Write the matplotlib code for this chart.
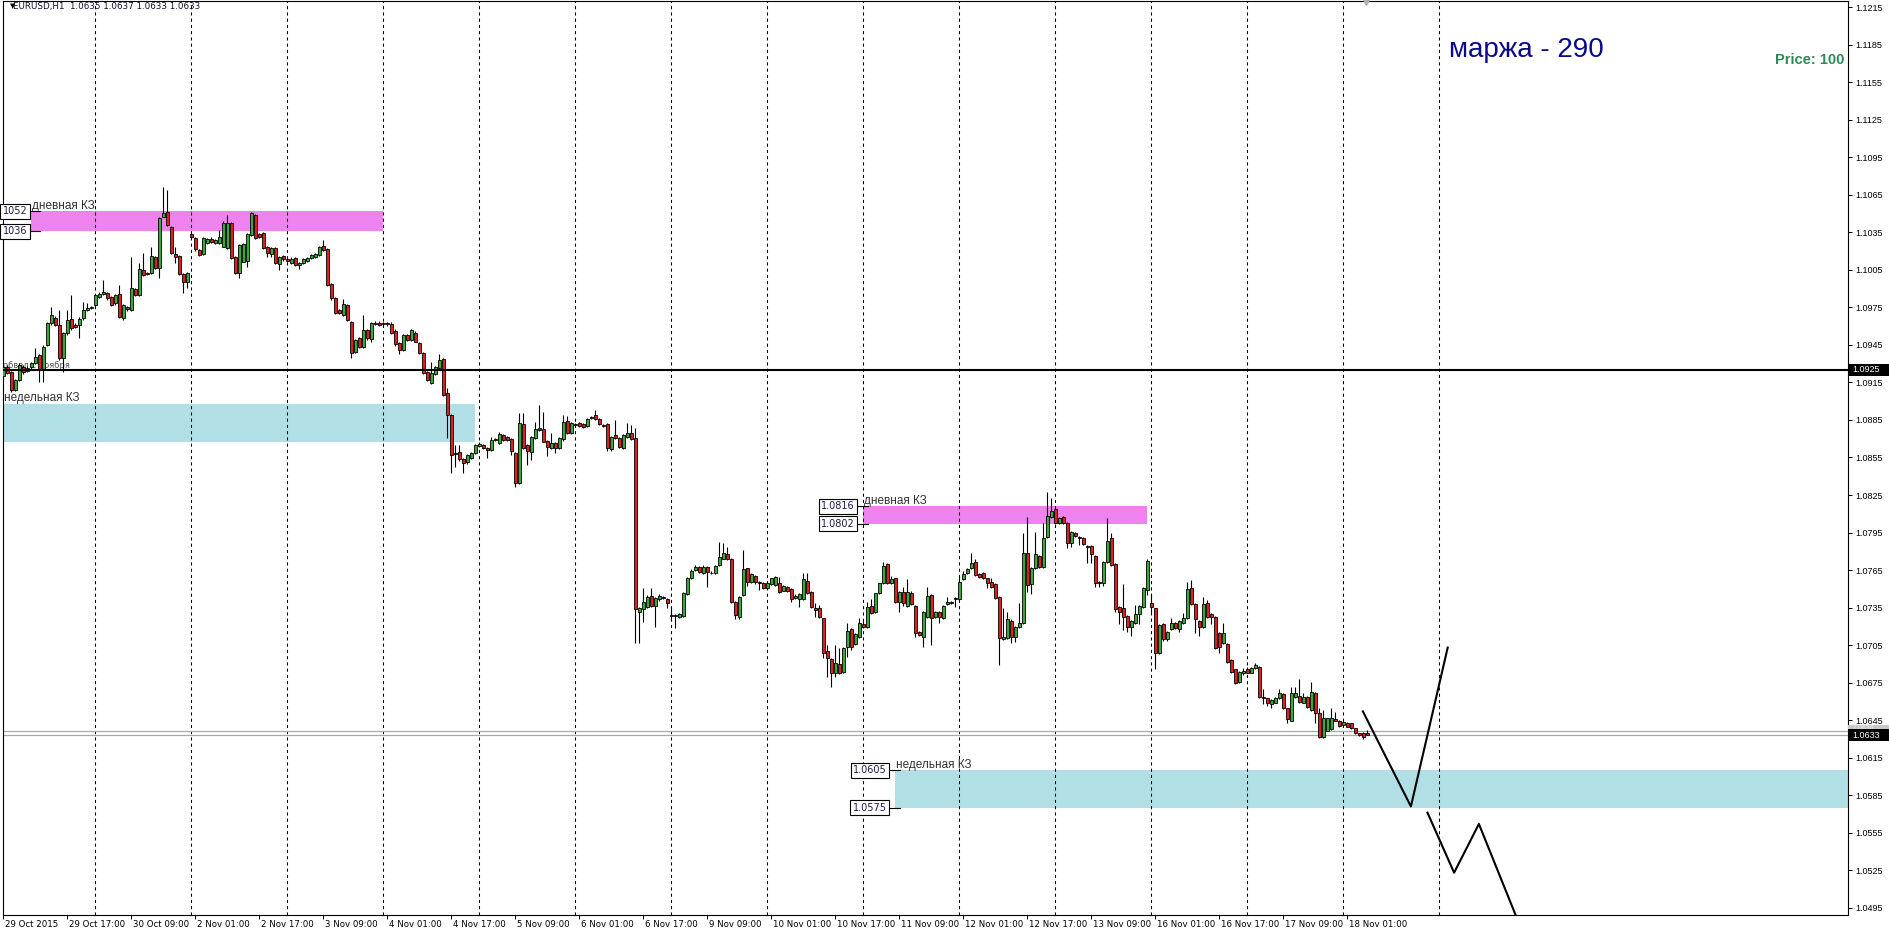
import numpy as np
import matplotlib.pyplot as plt
from matplotlib.patches import Rectangle
from matplotlib.transforms import ScaledTranslation, blended_transform_factory

# EURUSD H1, 29 Oct 2015 01:00 .. 18 Nov 2015 05:00
# prices given in pips above 1.0000  (price = 1 + pips / 10000)
open_pips = [
    920, 927.7, 923.7, 909, 917, 927.7, 924.5, 927.7, 930.3, 937,
    925, 945, 962.3, 966.3, 961, 934.3, 954.3, 965.5, 961, 961,
    966.3, 973, 974.3, 977, 983.6, 985.8, 986.3, 983.6, 978.3, 985.8,
    966.3, 975.6, 973, 989.5, 985, 1004.9, 1002.8, 1002.3, 1015.1, 1006.3,
    1047.6, 1051.1, 1039.1, 1017.7, 1016.4, 1001.8, 995.6, 1033.7, 1030.3, 1020.9,
    1017.7, 1026.8, 1030, 1026.8, 1026.3, 1023.6, 1022.3, 1042.8, 1015.1, 1002.8,
    1011.6, 1012.4, 1032.9, 1048.7, 1033.7, 1034.3, 1023.6, 1017.7, 1022.3, 1009.5,
    1016.1, 1013.5, 1010.8, 1014.3, 1008.9, 1010.3, 1012.4, 1014.3, 1015.1, 1016.9,
    1024.1, 1021.5, 993.8, 982.3, 973, 969, 977, 963.6, 939.7, 950.3,
    943.7, 957, 949.5, 961.8, 962.8, 962.3, 961.8, 961.8, 956.4, 946.3,
    941, 953, 949, 954.9, 946.3, 938.3, 923.7, 914.9, 921.8, 926.4,
    933.5, 906.4, 889, 858.9, 859.2, 853.6, 851.2, 854.4, 858.9, 864.3,
    865.1, 862.4, 861.1, 869, 866.9, 872.8, 871.2, 869.6, 858.9, 834.9,
    881.6, 865.1, 859.7, 870.4, 878.4, 877.6, 868.5, 862.4, 866.4, 862.4,
    869.6, 884.5, 874.4, 881.6, 882.4, 881.8, 880.2, 887.2, 889, 885.6,
    880.8, 881.8, 861.6, 873, 870.4, 862.4, 871.2, 874.4, 870.4, 731.8,
    733.7, 735.8, 744.6, 736.3, 741.6, 743.8, 741.6, 729.1, 728.3, 727.3,
    728.3, 745.9, 758.4, 765.1, 767.2, 763, 767.2, 763, 762.4, 769.1,
    774.2, 777.6, 773.6, 739.8, 727.8, 745.1, 766.4, 755.8, 760.3, 755.2,
    754.9, 750.4, 753.9, 753.1, 754.4, 748.6, 751.8, 749.6, 742.4, 741.6,
    741.6, 756.3, 747.2, 734.4, 734.4, 726.4, 700.6, 693.9, 682.4, 689.9,
    683.8, 703.2, 717.6, 705.9, 711.7, 721.9, 719.7, 736.3, 731.7, 746.9,
    754.4, 769.8, 754.4, 758.4, 739.7, 747.7, 736.3, 746.9, 736.3, 715.7,
    711.7, 727.2, 745, 727.2, 731.7, 726.4, 737.9, 738.9, 742.1, 741.6,
    757.6, 762.4, 766.4, 771.7, 761.6, 762.4, 758.4, 755.7, 753.8, 743.2,
    709.6, 710.4, 724.5, 711.7, 719.7, 722.4, 778.9, 753.8, 766.4, 776.2,
    767.2, 791.2, 807.1, 813.5, 802.9, 807.7, 802.9, 786.9, 794.9, 791.2,
    790.4, 784.2, 784.2, 776.2, 755.7, 754.9, 771.7, 790.4, 769.8, 735.2,
    734.4, 728.3, 719.7, 722.9, 729.9, 735.2, 749, 738.9, 734.4, 698.9,
    721.9, 709.6, 717.6, 722.9, 717.6, 722.9, 726.4, 750.4, 737.9, 724.5,
    719.2, 738.9, 729.9, 727.7, 714.9, 706.4, 705.9, 693.1, 685.6, 675.8,
    682.4, 685.6, 683, 686.4, 687.2, 663.8, 662.4, 657.9, 659, 662.4,
    665.9, 654.4, 644.6, 663.2, 664.3, 659, 663.2, 653.1, 667, 650.4,
    631.2, 636.6, 637.6, 645.6, 644.6, 641.1, 643, 642.4, 638.4, 634.4,
    635, 635,
]
high_pips = [
    930, 929, 924.5, 918, 930.3, 929, 928, 931, 942.3, 938,
    945, 963, 975.6, 968, 973, 955, 973, 985, 962.5, 967,
    979.6, 978.3, 976.5, 986, 987, 997, 987.5, 984.5, 986, 993,
    978, 976.5, 1015.6, 990.5, 1010.3, 1018.3, 1003.5, 1023.6, 1016, 1047,
    1071.6, 1068.9, 1040, 1023.6, 1017, 1002.5, 1003, 1034.5, 1031, 1021.5,
    1031, 1030.3, 1031, 1030, 1036.9, 1044, 1048.9, 1043.5, 1016, 1025.5,
    1026.5, 1034.5, 1051.6, 1049.5, 1034.5, 1035, 1024.5, 1023, 1023, 1016,
    1017, 1014.5, 1015, 1015, 1011, 1014.5, 1015.5, 1018, 1018.5, 1024,
    1028.9, 1022.3, 994.5, 983, 974, 981.5, 978, 964.5, 950, 951.5,
    969, 958, 963.5, 964, 964, 963.5, 963.5, 963, 957.5, 947,
    954, 954, 958, 956, 947, 939, 924.5, 931.1, 928, 937.8,
    934.5, 910.4, 890, 865, 865, 854.5, 857.5, 859.5, 866, 867,
    866, 863, 871.7, 870.5, 875.7, 873.5, 872, 870.5, 859.5, 890.5,
    890.5, 866, 872, 883.7, 897, 891.7, 869, 874.9, 867, 871,
    889, 888.2, 883, 882.5, 883, 882.5, 886.5, 888, 893, 886.5,
    881.5, 882.5, 872, 885, 871, 874, 882.9, 881, 878.4, 735.5,
    750.4, 745, 750.4, 743.2, 745.5, 744.5, 742.4, 735.8, 730, 731,
    747.5, 759.5, 765.5, 769, 768.5, 769, 768, 764, 769, 787.5,
    786.4, 783.8, 774.5, 740.5, 744.5, 781.1, 767, 762.5, 761, 756,
    755.5, 755, 759, 760.5, 759.2, 753, 752.5, 750.5, 745.5, 746.5,
    762.4, 762.4, 748, 738.4, 737.1, 727, 705.1, 694.5, 705.1, 702.4,
    703.2, 722.4, 718.5, 714.5, 726.4, 724.5, 739.7, 741.6, 747, 755,
    771.7, 770.5, 760, 759, 748.5, 751.2, 757.6, 748, 737, 716.5,
    732.5, 751.2, 746, 732.5, 732.5, 737, 743.2, 740.5, 743.5, 760.2,
    764.5, 766.5, 778.4, 773.6, 762.5, 763.7, 759, 758.4, 754.5, 744,
    734.4, 731.7, 725.5, 720.5, 738.4, 794.4, 807.1, 767.2, 795.7, 777,
    802.4, 827.7, 822.3, 816.2, 807.2, 808.5, 803.5, 796.5, 795.5, 792,
    791.2, 785, 785, 777, 756.5, 772.5, 806.4, 794.4, 770.5, 736,
    753.8, 729, 725.2, 737.1, 737, 751.2, 773.6, 745.8, 735, 722,
    722.5, 716.5, 726.4, 723.5, 725.2, 730.9, 755.7, 757, 738.5, 725,
    743.7, 741.1, 730.5, 728.5, 715.5, 722.4, 706.5, 694, 686.2, 684.5,
    686.4, 687.2, 687.2, 690.4, 688, 669.6, 663, 662, 663.2, 669.6,
    666.4, 655, 671.8, 671.2, 677.6, 666.4, 664, 675.8, 667.8, 654.4,
    653.1, 647, 654.4, 651.8, 645.2, 644.5, 643.6, 643, 639, 635,
    635.5, 637,
]
low_pips = [
    917, 922, 907.7, 908, 916, 922, 923, 926, 929.5, 915.7,
    915.7, 944, 961, 960, 933, 923.7, 953, 957, 958.5, 950.3,
    965, 972, 973.5, 976, 982.5, 985, 981, 976, 977, 966.5,
    965, 972.5, 972, 984, 984, 1000, 1001, 1001.5, 1005.5, 998.3,
    1047, 1040, 1017.5, 1010.3, 1001, 986.3, 990.3, 1030.5, 1020.5, 1016,
    1017, 1026, 1026.5, 1026, 1025.5, 1023, 1021.5, 1013.5, 1002, 998.3,
    1011, 1007.6, 1032, 1029.5, 1030.5, 1021.5, 1015, 1015, 1009.5, 1004.9,
    1012.5, 1011.5, 1010, 1008, 1005.5, 1009.5, 1011.5, 1013.5, 1014.5, 1016,
    1020, 992, 981, 969.5, 969.5, 968, 964, 934.3, 938.5, 942.5,
    942.5, 949, 947, 961, 960, 960.5, 960.5, 954, 944.5, 938,
    940, 948, 948, 947, 937.5, 921.5, 916, 914, 921, 925.5,
    904, 870.4, 842.9, 847.7, 852.5, 842.4, 850, 853.5, 858, 863.5,
    861.5, 854.4, 860, 868, 866, 868, 868, 857.1, 831.7, 834,
    861.5, 849.1, 853.1, 869.5, 876, 867, 856.3, 861.5, 858.5, 861.5,
    868.5, 874, 873.5, 880.3, 879.5, 878.5, 879.5, 885.6, 885, 881,
    879.5, 860.5, 860.5, 869.5, 862.5, 861.5, 870.5, 869, 706.5, 706.5,
    723.8, 735, 735.5, 719.8, 740.5, 741.5, 734.5, 725.1, 718.5, 726.5,
    727.5, 745, 757.5, 764.5, 763, 762, 751.8, 761.5, 761.5, 768.5,
    773.5, 773, 739, 725.7, 725.7, 744.5, 752, 754.5, 754, 749.1,
    749.5, 749.5, 753, 752.5, 747, 748, 747.5, 739.5, 741.5, 735.8,
    740.8, 745.5, 734.5, 727.7, 726.5, 694.4, 679.8, 671.8, 679.8, 682,
    683, 695.2, 701.1, 705, 711, 718.5, 719, 730, 731, 746,
    753.5, 754, 753.5, 739, 731.7, 736.3, 735.5, 737, 711.7, 712,
    703.7, 726.5, 705.1, 726.5, 722.4, 725.5, 737, 738, 735.2, 741,
    757, 761.5, 765.5, 760, 759, 757.5, 750.4, 751, 741.5, 689.1,
    708.8, 709.5, 706.4, 707.7, 719, 721.5, 747.7, 745.8, 765.5, 766.5,
    766.5, 790.5, 806.5, 801.5, 802, 802, 782.4, 783.7, 791.5, 785,
    785, 770.4, 770.4, 751.2, 751.2, 752.2, 771, 768.2, 731.7, 721.9,
    717.1, 715.7, 712.3, 722, 721.9, 734.4, 745, 729.9, 685.6, 698,
    708.5, 708.5, 717, 717.5, 715.7, 722, 725.5, 737, 714.4, 712.3,
    718.5, 727, 721.9, 701.5, 698.9, 705.5, 691, 683, 673.9, 675,
    681.1, 682.3, 682.3, 685.8, 663, 657.9, 656.3, 654.4, 658.4, 661.8,
    653.8, 642.4, 644, 662.5, 659, 658.4, 655, 652.5, 643, 631,
    630.5, 636, 637, 644, 639.8, 640.5, 639.3, 637.8, 633.8, 632.5,
    629.6, 633,
]
close_pips = [
    927, 922.9, 909, 917, 929, 923.7, 926.3, 930.3, 935.7, 925,
    943.7, 962.3, 969, 961, 934.3, 954.3, 965, 958.3, 959.6, 965.8,
    973, 974.8, 975.6, 985, 985.8, 987, 982.3, 977, 985, 967.6,
    977, 973.5, 990.3, 985, 1005.5, 1001, 1001.8, 1016.1, 1006.3, 1046.3,
    1050.3, 1040.9, 1018.3, 1015.1, 1001.8, 995.6, 1002.3, 1031.1, 1021.5, 1016.9,
    1030.3, 1029.5, 1027.3, 1028.9, 1031.1, 1042.8, 1042.8, 1014.3, 1002.8, 1024.9,
    1025.7, 1033.7, 1050.3, 1030.3, 1031.1, 1022.3, 1018.8, 1022.3, 1010.3, 1015.1,
    1013.5, 1012.4, 1013.5, 1008.9, 1010.3, 1013.5, 1014.3, 1016.9, 1017.7, 1023.1,
    1020.9, 993, 982.3, 970.3, 970.3, 977.8, 965, 938.3, 949, 943.7,
    957, 950.3, 962.3, 962.8, 961, 961.8, 962.3, 954.8, 945.8, 941,
    953, 949, 957, 947.7, 938.3, 922.4, 917, 922.9, 927.1, 933,
    905, 889, 857.1, 857.9, 853.6, 850.4, 856.8, 858.9, 865.1, 865.8,
    862.4, 861.1, 869, 869.6, 873.8, 869, 869, 860.5, 834.4, 882.4,
    862.4, 860.5, 871.2, 877.6, 877, 867.7, 863.2, 866.9, 862.4, 870.4,
    883.7, 874.9, 882.4, 881, 880.2, 879.2, 885.6, 886.4, 885.6, 881.8,
    880.2, 862.4, 871.2, 870.4, 863.2, 873, 874.9, 869.6, 733.7, 734.5,
    739.8, 743.8, 736.3, 742.4, 744.6, 742.4, 739, 728.3, 729.1, 729.9,
    746.4, 758.4, 764.6, 767.2, 763.8, 767.8, 763.8, 762.4, 768.3, 775.2,
    778.4, 773.6, 739.8, 729.1, 743.8, 765.6, 755.8, 761.6, 755.8, 754.4,
    750.4, 754.4, 758.4, 759.2, 747.8, 752.3, 748.6, 741.6, 744.3, 745.9,
    757.6, 746.4, 735.2, 733.1, 727.2, 698.9, 694.4, 682.9, 690.4, 682.9,
    702.4, 716.5, 703.7, 713.9, 722.4, 719.2, 735.2, 730.9, 746.4, 754.4,
    768.2, 754.9, 757.6, 739.7, 747.7, 738.4, 747.7, 737.9, 714.9, 713.1,
    731.7, 744.2, 726.4, 731.7, 727.2, 736.3, 739.7, 739.7, 742.6, 755.7,
    761.6, 765.6, 770.4, 761, 759.7, 758.4, 754.9, 751.7, 742.4, 710.4,
    711.2, 725.6, 711.7, 719.7, 722.9, 778.4, 753, 766.4, 777.8, 767.2,
    790.4, 808.2, 812.2, 802.4, 806.4, 802.9, 786.4, 795.7, 792.2, 790.4,
    785.8, 783.2, 777.8, 754.4, 754.4, 771.7, 788.5, 769, 733.6, 731.7,
    727.2, 719.2, 724.5, 729.9, 736.3, 750.4, 772.5, 735.2, 698.4, 721.1,
    709.6, 715.7, 722.9, 718.4, 724.5, 726.4, 749.6, 737.9, 725.6, 719.2,
    737.9, 727.7, 727.2, 702.4, 703.2, 714.4, 691.7, 683.7, 674.9, 683.7,
    684.5, 683, 686.4, 689.1, 663.8, 662.4, 658.4, 661.1, 662.4, 666.4,
    654.4, 645.6, 667, 667, 659.8, 663.8, 655.8, 667.8, 651, 631.8,
    646.4, 646.4, 646.4, 644.6, 640.3, 643.8, 639.8, 638.4, 634.4, 633.1,
    631.8, 633,
]

time_labels = ['29 Oct 2015', '29 Oct 17:00', '30 Oct 09:00', '2 Nov 01:00',
               '2 Nov 17:00', '3 Nov 09:00', '4 Nov 01:00', '4 Nov 17:00',
               '5 Nov 09:00', '6 Nov 01:00', '6 Nov 17:00', '9 Nov 09:00',
               '10 Nov 01:00', '10 Nov 17:00', '11 Nov 09:00', '12 Nov 01:00',
               '12 Nov 17:00', '13 Nov 09:00', '16 Nov 01:00', '16 Nov 17:00',
               '17 Nov 09:00', '18 Nov 01:00']
label_every = 16          # bars between time labels
day_start_bars = [23 + 24 * k for k in range(15)]

# zones: (bar from, bar to, low price, high price)
daily_zones = [(6.9, 94.9, 1.1036, 1.1052), (214.9, 285.9, 1.0802, 1.0816)]
weekly_zones = [(-0.1, 117.9, 1.0867, 1.0898), (222.9, 470, 1.0575, 1.0605)]
level_price = 1.0925
bid, ask = 1.0633, 1.0636

# hand drawn forecast
zig1_bars = [339.9, 351.9, 361.1]
zig1_prices = [1.0652, 1.0576, 1.0703]
zig2_bars = [356.05, 362.7, 368.9, 378.1]
zig2_prices = [1.0571, 1.0523, 1.0562, 1.0489]

o = 1 + np.array(open_pips) / 1e4
h = 1 + np.array(high_pips) / 1e4
l = 1 + np.array(low_pips) / 1e4
c = 1 + np.array(close_pips) / 1e4
idx = np.arange(len(o))

GREEN = '#3aa83a'
RED = '#dd1f1f'
PINK = '#ee82ee'
CYAN = '#b0e0e6'

fig = plt.figure(figsize=(18.9, 9.36), dpi=100)
ax = fig.add_axes([3 / 1890, 21 / 936, 1845 / 1890, 914 / 936])
ax.set_xlim((3 - 3.3) / 4, (1848 - 3.3) / 4)
ax.set_ylim(1.04892, 1.12200)

for x0, x1, y0, y1 in daily_zones:
    ax.add_patch(Rectangle((x0, y0), x1 - x0, y1 - y0, color=PINK, lw=0, zorder=0.5))
for x0, x1, y0, y1 in weekly_zones:
    ax.add_patch(Rectangle((x0, y0), x1 - x0, y1 - y0, color=CYAN, lw=0, zorder=0.5))

for d in day_start_bars:
    ax.axvline(d, color='black', lw=0.75, ls=(0, (3, 3)), zorder=1)

ax.axhline(ask, color='#a8a8a8', lw=0.9, zorder=1.2)
ax.axhline(bid, color='#a8a8a8', lw=0.9, zorder=1.2)

# candles
up = c >= o
ax.vlines(idx, l, h, color='black', lw=0.8, zorder=3)
body = np.maximum(np.abs(c - o), 0.00002)
ax.bar(idx, body, bottom=np.minimum(o, c), width=0.75,
       color=np.where(up, GREEN, RED), edgecolor='black', linewidth=0.6, zorder=4)

ax.axhline(level_price, color='black', lw=1.5, zorder=5)

ax.plot(zig1_bars, zig1_prices, color='black', lw=1.5, zorder=5)
ax.plot(zig2_bars, zig2_prices, color='black', lw=1.5, zorder=5)

# texts on chart
zone_font = dict(family='Liberation Sans', fontsize=8.5, color='#333333', zorder=2)
ax.text(7.2, 1.1054, 'дневная КЗ', va='baseline', **zone_font)
ax.text(215.2, 1.0818, 'дневная КЗ', va='baseline', **zone_font)
ax.text(0.2, 1.0900, 'недельная КЗ', va='baseline', **zone_font)
ax.text(223.2, 1.0607, 'недельная КЗ', va='baseline', **zone_font)
ax.text(0.0, 1.09265, 'обвал с ноября', va='baseline', family='DejaVu Sans',
        fontsize=6, color='#555555', zorder=2)

box = dict(boxstyle='square,pad=0.25', fc='white', ec='black', lw=0.8)
tag_font = dict(family='DejaVu Sans', fontsize=7, color='#1c1c50', ha='right',
                va='center', bbox=box, zorder=6)
for txt, bx, pr, x_end in [('1052', 6.0, 1.1052, 9.2), ('1036', 6.0, 1.1036, 9.2),
                           ('1.0816', 212.9, 1.0816, 216.3), ('1.0802', 212.9, 1.0802, 216.3),
                           ('1.0605', 220.9, 1.0605, 224.2), ('1.0575', 220.9, 1.0575, 224.2)]:
    ax.plot([bx + 0.4, x_end], [pr, pr], color='black', lw=0.8, zorder=6)
    ax.text(bx, pr, txt, **tag_font)

ax.text(361.4, 1.1175, 'маржа - 290', family='Liberation Sans', fontsize=20,
        color='#0a0a8a', va='baseline', zorder=6)
ax.text(460.3, 1.11729, 'Price: 100', family='Liberation Sans', fontsize=10.5,
        fontweight='bold', color='#2e8b57', ha='right', va='center', zorder=6)

ax.text(0.004, 0.9945, '\u25bc', transform=ax.transAxes, fontsize=5, va='center',
        ha='left', family='DejaVu Sans')
ax.text(0.0056, 0.9945, 'EURUSD,H1  1.0635 1.0637 1.0633 1.0633', transform=ax.transAxes,
        fontsize=6.3, va='center', ha='left', family='DejaVu Sans', color='#101030')

ax.plot([340.7], [1.12200], marker='v', color='#b0b0b0', ms=6, clip_on=False, zorder=7)

# axes styling
for s in ax.spines.values():
    s.set_color('black')
    s.set_linewidth(0.8)

ax.yaxis.tick_right()
yt = np.round(1.1215 - 0.003 * np.arange(25), 4)
ax.set_yticks(yt)
ax.set_yticklabels([f'{v:.4f}' for v in yt])
ax.tick_params(axis='y', direction='out', length=3, width=0.7, pad=2,
               labelsize=6.5, labelcolor='black')
for t in ax.get_yticklabels():
    t.set_family('Liberation Sans')

ax.set_xticks(np.arange(len(time_labels)) * label_every)
ax.set_xticklabels(time_labels)
ax.tick_params(axis='x', direction='out', length=3, width=0.7, pad=0.3,
               labelsize=6.2)
shift = ScaledTranslation(2 / 100, 0, fig.dpi_scale_trans)
for t in ax.get_xticklabels():
    t.set_horizontalalignment('left')
    t.set_family('DejaVu Sans')
    t.set_transform(t.get_transform() + shift)

# price tags on the right scale; the ask tag sits mostly behind the bid tag
tr = blended_transform_factory(ax.transAxes, ax.transData)
tag_w = 42 / 1845
tag_h = 0.00100
ax.add_patch(Rectangle((1.0, ask - tag_h / 2), tag_w, tag_h, transform=tr,
                       fc='#c8c8c8', ec='none', clip_on=False, zorder=8))
ax.text(1.0 + 4 / 1845, ask + 0.00022, f'{ask:.4f}', transform=tr, color='#ececec',
        fontsize=5, family='Liberation Sans', va='center', ha='left', zorder=8.5,
        clip_on=False)
for pr in [bid, level_price]:
    ax.add_patch(Rectangle((1.0, pr - tag_h / 2), tag_w, tag_h, transform=tr,
                           fc='black', ec='none', clip_on=False, zorder=9))
    ax.text(1.0 + 4 / 1845, pr, f'{pr:.4f}', transform=tr, color='white', fontsize=6.5,
            family='Liberation Sans', va='center', ha='left', zorder=10, clip_on=False)

fig.savefig('out.png', dpi=100, facecolor='white')
